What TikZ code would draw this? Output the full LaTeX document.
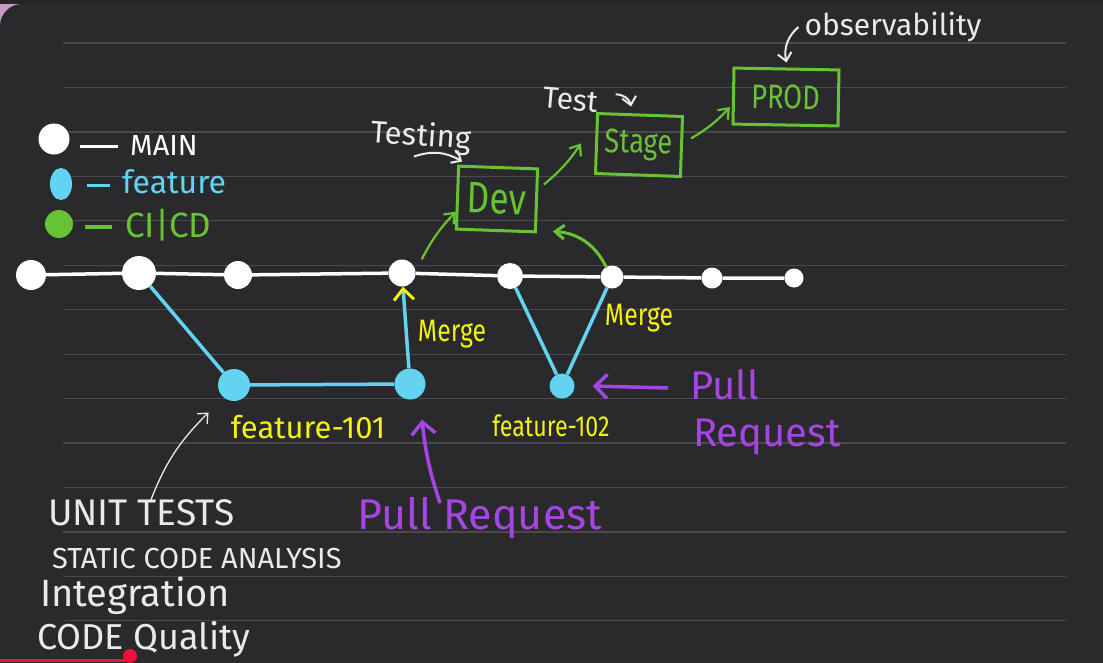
\documentclass[tikz,border=0pt]{standalone}
\usepackage{fontspec}
\setmainfont{Fira Sans}
\newfontfamily\tallfont[FakeStretch=0.8]{Fira Sans}
\usetikzlibrary{arrows.meta,shapes.geometric}
\definecolor{board}{HTML}{2A2A2C}
\definecolor{ruling}{HTML}{4A4A4C}
\definecolor{chalk}{HTML}{EAEAEA}
\definecolor{branchblue}{HTML}{62D3F0}
\definecolor{cigreen}{HTML}{67C234}
\definecolor{markyellow}{HTML}{F4F211}
\definecolor{prpurple}{HTML}{A646E2}
\definecolor{cornerpink}{HTML}{C49CC6}
\definecolor{barred}{HTML}{F0103A}
\newcommand{\penfont}[1]{\fontsize{#1}{#1}\selectfont}
\tikzset{
  maincommit/.style={circle, fill=white, inner sep=0pt, minimum size=#1},
  featcommit/.style={circle, fill=branchblue, inner sep=0pt, minimum size=#1},
  trunk/.style={white, line width=3.5pt},
  branch/.style={branchblue, line width=3.5pt},
  envbox/.style={draw=cigreen, line width=3pt, text=cigreen, inner sep=0pt},
  flow/.style={cigreen, line width=2.2pt, -{Straight Barb[length=9pt,width=14pt]}},
  pull/.style={prpurple, line width=3.5pt, -{Straight Barb[length=12pt,width=24pt]}},
  note/.style={chalk, line width=2pt, -{Straight Barb[length=8pt,width=14pt]}},
  hand/.style={inner sep=0pt, font=\penfont{#1}},
  tallhand/.style={inner sep=0pt, font=\tallfont\penfont{#1}},
}
\begin{document}
\begin{tikzpicture}[x=1pt,y=-1pt]
        \fill[cornerpink] (0,0) rectangle (40,40);
        \fill[black!85] (0,0) rectangle (1103,4);
        \begin{scope}
          \clip (0,0) rectangle (1103,662);
          \fill[board, rounded corners=22] (0,4) rectangle (1200,760);
        \end{scope}
        \foreach \i in {0,...,13}
          \draw[ruling, line width=1.2pt] (63,43+44.45*\i) -- (1066,43+44.45*\i);

        % legend
        \node[maincommit=31] (keymain) at (54,139) {};
        \node[featcommit=22, ellipse, minimum height=32] (keyfeat) at (61,184) {};
        \node[circle, fill=cigreen, minimum size=28, inner sep=0pt] (keyci) at (59,224) {};
        \node[hand=29, white, anchor=west] (keymaintext) at (130,146) {MAIN};
        \node[hand=32, branchblue, anchor=west] (keyfeattext) at (122,182) {feature};
        \node[hand=35, cigreen, anchor=west] (keycitext) at (125,225) {CI|CD};
        \draw[white, line width=3pt] ([xshift=-50pt]keymaintext.west) -- ([xshift=-12pt]keymaintext.west);
        \draw[branchblue, line width=3pt] ([xshift=-35pt,yshift=-3pt]keyfeattext.west) -- ([xshift=-12pt,yshift=-3pt]keyfeattext.west);
        \draw[cigreen, line width=4pt] ([xshift=-40pt,yshift=-2pt]keycitext.west) -- ([xshift=-13pt,yshift=-2pt]keycitext.west);

        % main branch
        \node[maincommit=30] (m1) at (31,275) {};
        \node[maincommit=34] (m2) at (139,273) {};
        \node[maincommit=28] (m3) at (238,275) {};
        \node[maincommit=27] (m4) at (402,273) {};
        \node[maincommit=26] (m5) at (510,276) {};
        \node[maincommit=23] (m6) at (612,277) {};
        \node[maincommit=21] (m7) at (712,278) {};
        \node[maincommit=19] (m8) at (794,278) {};
        \draw[trunk] (m1) -- (m2) -- (m3) -- (m4) -- (m5) -- (m6) -- (m7) -- (m8);

        % feature branches
        \node[featcommit=32] (f1) at (234,385) {};
        \node[featcommit=31] (f2) at (410,384) {};
        \node[featcommit=25] (f3) at (562,386) {};
        \draw[branch] (m2) -- (f1) -- (f2);
        \draw[branch, -{Straight Barb[color=markyellow,length=11pt,width=20pt,line width=3pt]}] (f2) -- (m4);
        \draw[branch] (m5) -- (f3) -- (m6);
        \node[hand=31, markyellow] (feat1) at (308,427) {feature-101};
        \node[tallhand=29, markyellow] (feat2) at (551,426) {feature-102};
        \node[tallhand=31, markyellow] (merge1) at (452,334) {Merge};
        \node[tallhand=31, markyellow] (merge2) at (639,318) {Merge};

        % environments
        \node[envbox, minimum width=79, minimum height=63, rotate=-2, tallhand=44] (dev) at (497,199) {Dev};
        \node[envbox, minimum width=85, minimum height=60, rotate=-2, tallhand=34] (stage) at (639,145) {Stage};
        \node[envbox, minimum width=105, minimum height=56, rotate=-1, tallhand=34] (prod) at (786,97) {PROD};
        \draw[flow] ([shift={(10pt,4pt)}]m4.45) to[bend left=8] ([yshift=-14pt]dev.west);
        \draw[flow] ([xshift=6pt,yshift=16pt]dev.east) to[bend right=8] ([xshift=-14pt]stage.west);
        \draw[flow] ([xshift=8pt,yshift=8pt]stage.east) to[bend right=8] ([xshift=-2pt,yshift=-11pt]prod.west);
        \draw[flow, line width=3pt] (m6.120) to[bend right=30] ([xshift=16pt,yshift=2pt]dev.south east);

        % white notes
        \node[hand=31, chalk, rotate=-4] (testing) at (421,137) {Testing};
        \node[hand=30, chalk, rotate=-5] (test) at (571,100) {Test};
        \node[hand=30, chalk] (observe) at (893,27) {observability};
        \draw[note] ([xshift=-6pt,yshift=-4pt]testing.south) to[bend left=25] ([xshift=5pt,yshift=3pt]dev.north west);
        \draw[note] ([xshift=17pt,yshift=8pt]test.east) to[bend left=40] ([xshift=-9pt,yshift=7pt]stage.north);
        \draw[note] ([xshift=-6pt]observe.west) to[bend right=30] ([yshift=5pt]prod.north);

        % pull requests
        \node[hand=43, prpurple] (pr1) at (480,518) {Pull Request};
        \node[hand=40, prpurple, anchor=west] (pull2) at (690,385) {Pull};
        \node[hand=40, prpurple, anchor=west] (req2) at (693,437) {Request};
        \draw[pull] ([xshift=-40pt,yshift=-6pt]pr1.north) to[bend left=6] ([xshift=12pt,yshift=-20pt]f2.south);
        \draw[pull] ([xshift=-22pt,yshift=-3pt]pull2.west) -- ([xshift=18pt]f3.east);

        % checks
        \node[hand=37, chalk, anchor=west] (unit) at (48,513) {UNIT TESTS};
        \node[hand=29, chalk, anchor=west] (static) at (52,558) {STATIC CODE ANALYSIS};
        \node[hand=38, chalk, anchor=west] (integ) at (40,596) {Integration};
        \node[hand=36, chalk, anchor=west] (quality) at (37,639) {CODE Quality};
        \draw[chalk, line width=1.3pt, -{Straight Barb[length=8pt,width=14pt]}] ([xshift=9pt,yshift=-2pt]unit.north) to[bend left=12] ([xshift=-14pt,yshift=-16pt]f1.south west);

        \draw[barred, line width=3pt] (0,660) -- (130,660);
        \fill[barred] (130,656) circle (7);

        \pgfresetboundingbox
        \useasboundingbox (0,0) rectangle (1103,662);
\end{tikzpicture}
\end{document}
